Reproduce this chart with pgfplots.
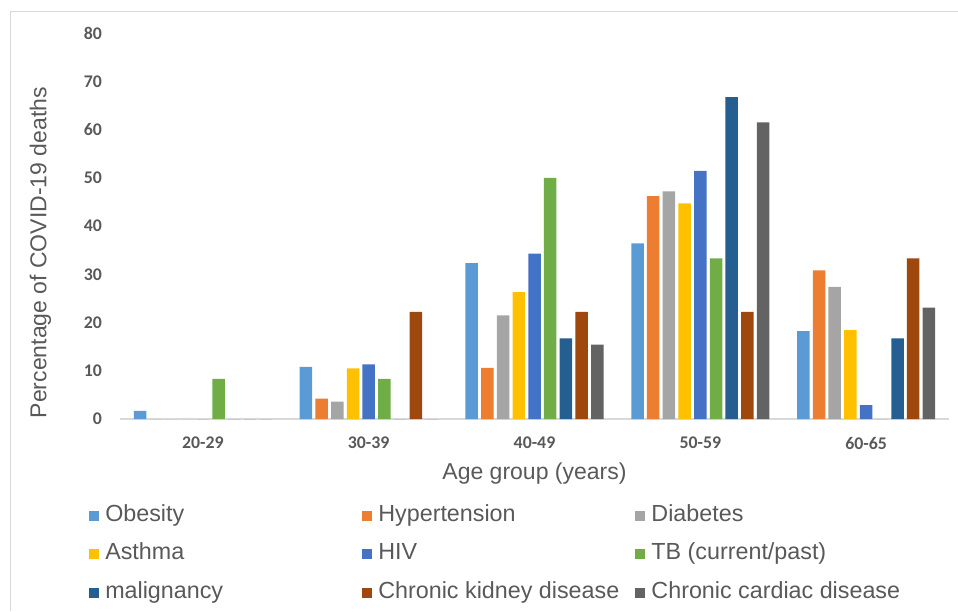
\documentclass[border=0pt]{standalone}
\usepackage{pgfplots}
\pgfplotsset{compat=1.18}
\usepackage{fontspec}
\setmainfont{Liberation Sans}
\newfontfamily\carlito{Carlito}
\definecolor{cObe}{HTML}{5B9BD5}
\definecolor{cHyp}{HTML}{ED7D31}
\definecolor{cDia}{HTML}{A5A5A5}
\definecolor{cAst}{HTML}{FFC000}
\definecolor{cHIV}{HTML}{4472C4}
\definecolor{cTB}{HTML}{70AD47}
\definecolor{cMal}{HTML}{255E91}
\definecolor{cCKD}{HTML}{9E480E}
\definecolor{cCar}{HTML}{636363}
\definecolor{txt}{HTML}{595959}
\definecolor{grid}{HTML}{D9D9D9}
\begin{document}
\begin{tikzpicture}
\useasboundingbox (-120pt,-192pt) rectangle (838pt,419pt);
\draw[grid, line width=1pt] (-109pt,-192pt) -- (-109pt,407pt) -- (838pt,407pt);
\begin{axis}[
  at={(0pt,0pt)}, anchor=south west,
  scale only axis, width=829pt, height=386pt,
  xmin=-0.5, xmax=4.5, ymin=0, ymax=80,
  ybar=3.2pt, bar width=12.5pt,
  xtick={0,1,2,3,4},
  xticklabels={20-29,30-39,40-49,50-59,60-65},
  ytick={0,10,...,80},
  axis lines*=left,
  x axis line style={draw=grid, line width=1.5pt},
  y axis line style={draw=none},
  major tick length=0pt,
  /pgf/number format/assume math mode=true,
  ticklabel style={font=\carlito\bfseries\fontsize{17.8}{21}\selectfont, text=txt},
  yticklabel style={inner sep=0pt, xshift=-18pt, anchor=east},
  xticklabel style={inner sep=0pt, yshift=-18pt, anchor=north},
  xlabel={Age group (years)},
  ylabel={Percentage of COVID-19 deaths},
  label style={font=\fontsize{23}{27}\selectfont, text=txt},
  xlabel style={at={(axis description cs:0.5,-0.158)}, anchor=base, inner sep=0pt},
  ylabel style={at={(axis description cs:-0.0887,0.431)}, anchor=base, inner sep=0pt},
  legend columns=3,
  legend cell align=left,
  legend image code/.code={\fill[#1] (0pt,-5pt) rectangle (10pt,5pt);},
  legend style={draw=none, fill=none, at={(axis description cs:-0.0379,-0.2225)}, anchor=north west,
    inner xsep=0pt, inner ysep=0pt,
    font=\fontsize{23.3}{27}\selectfont, text=txt,
    nodes={inner sep=0pt, text height=16pt, text depth=5pt},
    row sep=17.5pt,
    /tikz/every odd column/.append style={column sep=6.5pt},
    /tikz/every even column/.append style={column sep=0pt}},
  every axis plot/.append style={draw=none},
]
\addplot[fill=cObe] coordinates {(0,1.7) (1,10.8) (2,32.3) (3,36.4) (4,18.2)};
\addplot[fill=cHyp] coordinates {(0,0) (1,4.2) (2,10.6) (3,46.2) (4,30.8)};
\addplot[fill=cDia] coordinates {(0,0) (1,3.6) (2,21.5) (3,47.2) (4,27.4)};
\addplot[fill=cAst] coordinates {(0,0) (1,10.5) (2,26.3) (3,44.7) (4,18.4)};
\addplot[fill=cHIV] coordinates {(0,0) (1,11.3) (2,34.3) (3,51.4) (4,2.9)};
\addplot[fill=cTB] coordinates {(0,8.3) (1,8.3) (2,50.0) (3,33.3) (4,0)};
\addplot[fill=cMal] coordinates {(0,0) (1,0) (2,16.7) (3,66.7) (4,16.7)};
\addplot[fill=cCKD] coordinates {(0,0) (1,22.2) (2,22.2) (3,22.2) (4,33.3)};
\addplot[fill=cCar] coordinates {(0,0) (1,0) (2,15.4) (3,61.5) (4,23.1)};
\legend{\makebox[256.6pt][l]{Obesity},\makebox[256.6pt][l]{Hypertension},\makebox[256.6pt][l]{Diabetes},
\makebox[256.6pt][l]{Asthma},\makebox[256.6pt][l]{HIV},\makebox[256.6pt][l]{TB (current/past)},
\makebox[256.6pt][l]{malignancy},\makebox[256.6pt][l]{Chronic kidney disease},\makebox[256.6pt][l]{Chronic cardiac disease}}
\end{axis}
\end{tikzpicture}
\end{document}
